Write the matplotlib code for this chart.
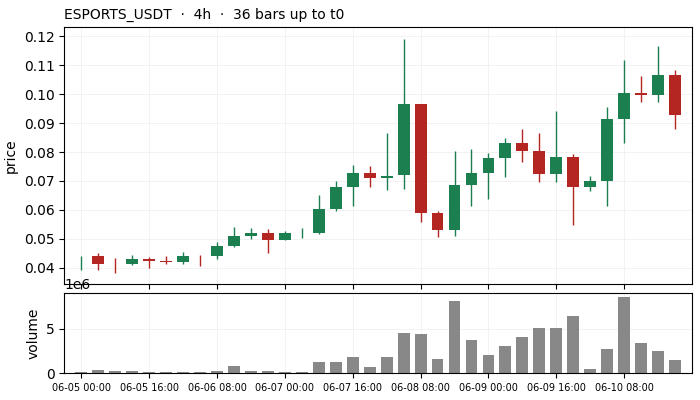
import matplotlib
matplotlib.use("Agg")
import matplotlib.pyplot as plt
from matplotlib.ticker import MultipleLocator

# 4h candles, 36 bars
opens = [0.0412, 0.0441, 0.0415, 0.0414, 0.0432, 0.0424, 0.0421, 0.0425, 0.0441, 0.0475,
         0.0509, 0.0520, 0.0496, 0.0520, 0.0520, 0.0602, 0.0680, 0.0728, 0.0712, 0.0719,
         0.0964, 0.0588, 0.0531, 0.0687, 0.0728, 0.0779, 0.0831, 0.0803, 0.0725, 0.0783,
         0.0678, 0.0701, 0.0913, 0.1005, 0.0996, 0.1067]
highs = [0.0440, 0.0451, 0.0436, 0.0444, 0.0438, 0.0441, 0.0455, 0.0444, 0.0489, 0.0540,
         0.0537, 0.0533, 0.0527, 0.0537, 0.0650, 0.0700, 0.0756, 0.0752, 0.0864, 0.1190,
         0.0964, 0.0595, 0.0803, 0.0810, 0.0797, 0.0848, 0.0879, 0.0865, 0.0940, 0.0793,
         0.0718, 0.0954, 0.1118, 0.1063, 0.1166, 0.1084]
lows = [0.0392, 0.0394, 0.0384, 0.0410, 0.0399, 0.0413, 0.0415, 0.0408, 0.0432, 0.0472,
        0.0499, 0.0452, 0.0496, 0.0503, 0.0516, 0.0598, 0.0613, 0.0681, 0.0669, 0.0672,
        0.0558, 0.0507, 0.0511, 0.0614, 0.0638, 0.0713, 0.0767, 0.0695, 0.0695, 0.0548,
        0.0664, 0.0614, 0.0832, 0.0973, 0.0973, 0.0878]
closes = [0.0413, 0.0414, 0.0414, 0.0431, 0.0424, 0.0422, 0.0441, 0.0424, 0.0475, 0.0509,
          0.0520, 0.0496, 0.0520, 0.0521, 0.0602, 0.0680, 0.0728, 0.0711, 0.0717, 0.0964,
          0.0589, 0.0531, 0.0687, 0.0728, 0.0779, 0.0831, 0.0803, 0.0725, 0.0783, 0.0678,
          0.0701, 0.0913, 0.1005, 0.0996, 0.1067, 0.0928]
volumes = [0.15e6, 0.37e6, 0.26e6, 0.26e6, 0.15e6, 0.15e6, 0.15e6, 0.15e6, 0.26e6, 0.81e6,
           0.26e6, 0.26e6, 0.15e6, 0.15e6, 1.26e6, 1.26e6, 1.81e6, 0.70e6, 1.81e6, 4.59e6,
           4.48e6, 1.59e6, 8.15e6, 3.70e6, 2.04e6, 3.04e6, 4.04e6, 5.15e6, 5.15e6, 6.48e6,
           0.48e6, 2.70e6, 8.59e6, 3.37e6, 2.48e6, 1.48e6]
tick_labels = ['06-05 00:00', '06-05 16:00', '06-06 08:00', '06-07 00:00', '06-07 16:00',
               '06-08 08:00', '06-09 00:00', '06-09 16:00', '06-10 08:00']

green = '#1b7f4f'
red = '#b32621'

x = list(range(len(opens)))
colors = [green if c >= o else red for o, c in zip(opens, closes)]
bottoms = [min(o, c) for o, c in zip(opens, closes)]
heights = [max(abs(c - o), 0.00005) for o, c in zip(opens, closes)]

fig = plt.figure(figsize=(7, 4), dpi=100)
ax = fig.add_axes([0.0919, 0.2893, 0.8967, 0.6425])
axv = fig.add_axes([0.0919, 0.0668, 0.8967, 0.2], sharex=ax)

# candles
ax.set_axisbelow(True)
ax.vlines(x, lows, highs, colors=colors, linewidth=1)
ax.bar(x, heights, bottom=bottoms, width=0.7, color=colors, linewidth=0)
ax.set_ylabel('price')
ax.set_title('ESPORTS_USDT  ·  4h  ·  36 bars up to t0', loc='left', fontsize=10)
ax.grid(True, color='#e6e6e6', alpha=0.6, linewidth=0.6)
ax.tick_params(labelbottom=False)

# volume
axv.set_axisbelow(True)
axv.bar(x, volumes, width=0.7, color='#888888')
axv.set_ylabel('volume')
axv.yaxis.set_major_locator(MultipleLocator(5e6))
axv.grid(True, color='#e6e6e6', alpha=0.6, linewidth=0.6)

axv.set_xlim(-1, 36)
axv.set_xticks(x[::4])
axv.set_xticklabels(tick_labels, fontsize=7)

plt.savefig('out.png')
